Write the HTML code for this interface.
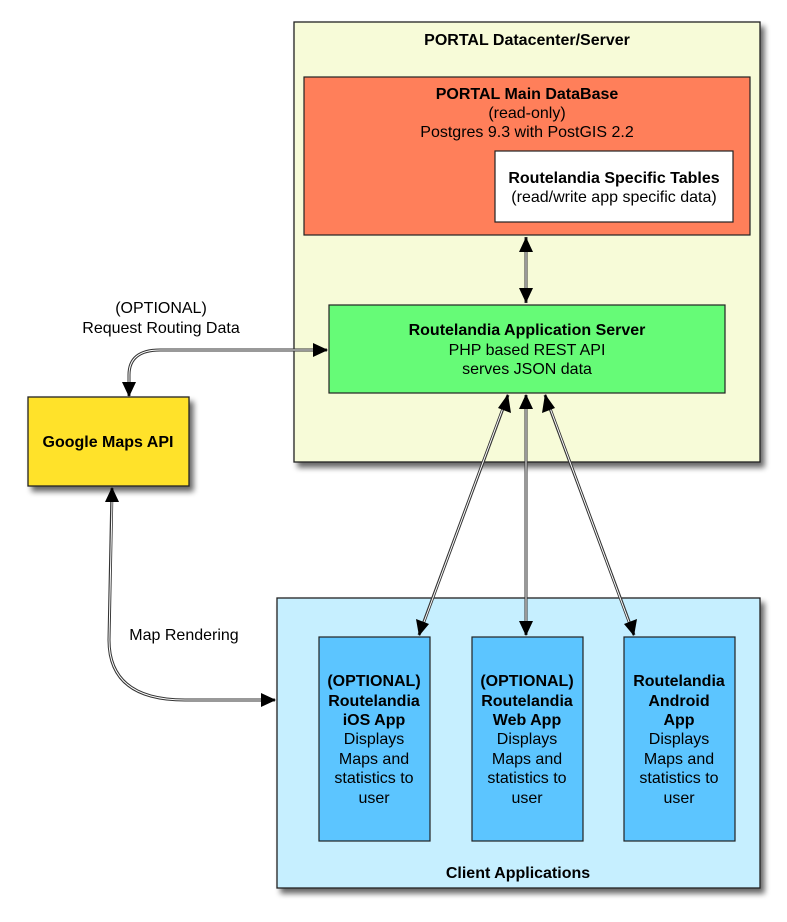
<!DOCTYPE html>
<html><head><meta charset="utf-8"><style>
html,body{margin:0;padding:0;background:#fff;}
svg{display:block;}
text{font-family:"Liberation Sans",Arial,sans-serif;font-size:16px;fill:#000;text-anchor:middle;}
.b{font-weight:bold;}
</style></head><body>
<svg width="787" height="922" viewBox="0 0 787 922" xmlns="http://www.w3.org/2000/svg">
<defs>
<filter id="sh" x="-10%" y="-10%" width="130%" height="130%">
<feGaussianBlur in="SourceAlpha" stdDeviation="3"/>
<feOffset dx="4" dy="5"/>
<feComponentTransfer><feFuncA type="linear" slope="0.6"/></feComponentTransfer>
<feMerge><feMergeNode/><feMergeNode in="SourceGraphic"/></feMerge>
</filter>
</defs>

<rect x="294" y="22" width="466" height="440" fill="#F7FBD8" stroke="#222" stroke-width="1.3" filter="url(#sh)"/>
<text class="b" x="527" y="45">PORTAL Datacenter/Server</text>

<rect x="304" y="77" width="446" height="158" fill="#FF7F5A" stroke="#222" stroke-width="1.2"/>
<text class="b" x="527" y="99">PORTAL Main DataBase</text>
<text x="527" y="118">(read-only)</text>
<text x="527" y="137">Postgres 9.3 with PostGIS 2.2</text>
<rect x="495" y="151" width="238" height="71" fill="#fff" stroke="#222" stroke-width="1.2"/>
<text class="b" x="614" y="183">Routelandia Specific Tables</text>
<text x="614" y="202">(read/write app specific data)</text>

<rect x="329" y="305" width="396" height="88" fill="#66FB77" stroke="#222" stroke-width="1.2"/>
<text class="b" x="527" y="335">Routelandia Application Server</text>
<text x="527" y="355">PHP based REST API</text>
<text x="527" y="374">serves JSON data</text>

<rect x="28" y="397" width="161" height="89" fill="#FFE22A" stroke="#222" stroke-width="1.3" filter="url(#sh)"/>
<text class="b" x="108" y="447">Google Maps API</text>

<rect x="277" y="598" width="483" height="290" fill="#C6EFFF" stroke="#222" stroke-width="1.3" filter="url(#sh)"/>
<text class="b" x="518" y="878">Client Applications</text>

<g stroke="#222" stroke-width="1.2" fill="#5CC5FF">
<rect x="319" y="637" width="111" height="204"/>
<rect x="472" y="637" width="111" height="204"/>
<rect x="624" y="637" width="111" height="204"/>
</g>
<g>
<text class="b" x="374" y="686">(OPTIONAL)</text>
<text class="b" x="374" y="706">Routelandia</text>
<text class="b" x="374" y="725">iOS App</text>
<text x="374" y="744">Displays</text>
<text x="374" y="764">Maps and</text>
<text x="374" y="783">statistics to</text>
<text x="374" y="803">user</text>

<text class="b" x="527" y="686">(OPTIONAL)</text>
<text class="b" x="527" y="706">Routelandia</text>
<text class="b" x="527" y="725">Web App</text>
<text x="527" y="744">Displays</text>
<text x="527" y="764">Maps and</text>
<text x="527" y="783">statistics to</text>
<text x="527" y="803">user</text>

<text class="b" x="679" y="686">Routelandia</text>
<text class="b" x="679" y="706">Android</text>
<text class="b" x="679" y="725">App</text>
<text x="679" y="744">Displays</text>
<text x="679" y="764">Maps and</text>
<text x="679" y="783">statistics to</text>
<text x="679" y="803">user</text>
</g>

<text x="161" y="313">(OPTIONAL)</text>
<text x="161" y="333">Request Routing Data</text>
<text x="184" y="640">Map Rendering</text>

<g fill="none">
<g stroke="#333" stroke-width="3">
<path d="M526,237 L526,303"/>
<path d="M129,396 L129,375 Q129,350 160,350 L327,350"/>
<path d="M112,488 L109,640 Q109,700 185,700 L275,700"/>
<path d="M508,395 L419,635"/>
<path d="M526,395 L526,635"/>
<path d="M545,395 L634,635"/>
</g>
<g stroke="#fff" stroke-width="1">
<path d="M526,251 L526,289"/>
<path d="M129,382 L129,375 Q129,350 160,350 L313,350"/>
<path d="M112,502 L109,640 Q109,700 185,700 L261,700"/>
<path d="M503,408 L424,622"/>
<path d="M526,409 L526,621"/>
<path d="M550,408 L629,622"/>
</g>
<g stroke="none" fill="#000">
<path d="M526,237 L519,252 L533,252 Z"/><path d="M526,303 L519,288 L533,288 Z"/>
<path d="M129,397 L122,382 L136,382 Z"/><path d="M328,350 L313,343 L313,357 Z"/>
<path d="M112,487 L105,502 L119,502 Z"/><path d="M276,700 L261,693 L261,707 Z"/>
<path d="M508,394 L498,408 L511,413 Z"/><path d="M419,636 L416,619 L429,624 Z"/>
<path d="M526,394 L519,409 L533,409 Z"/><path d="M526,636 L519,621 L533,621 Z"/>
<path d="M545,394 L542,413 L555,408 Z"/><path d="M634,636 L624,624 L637,619 Z"/>
</g>
</g>
</svg>
</body></html>
